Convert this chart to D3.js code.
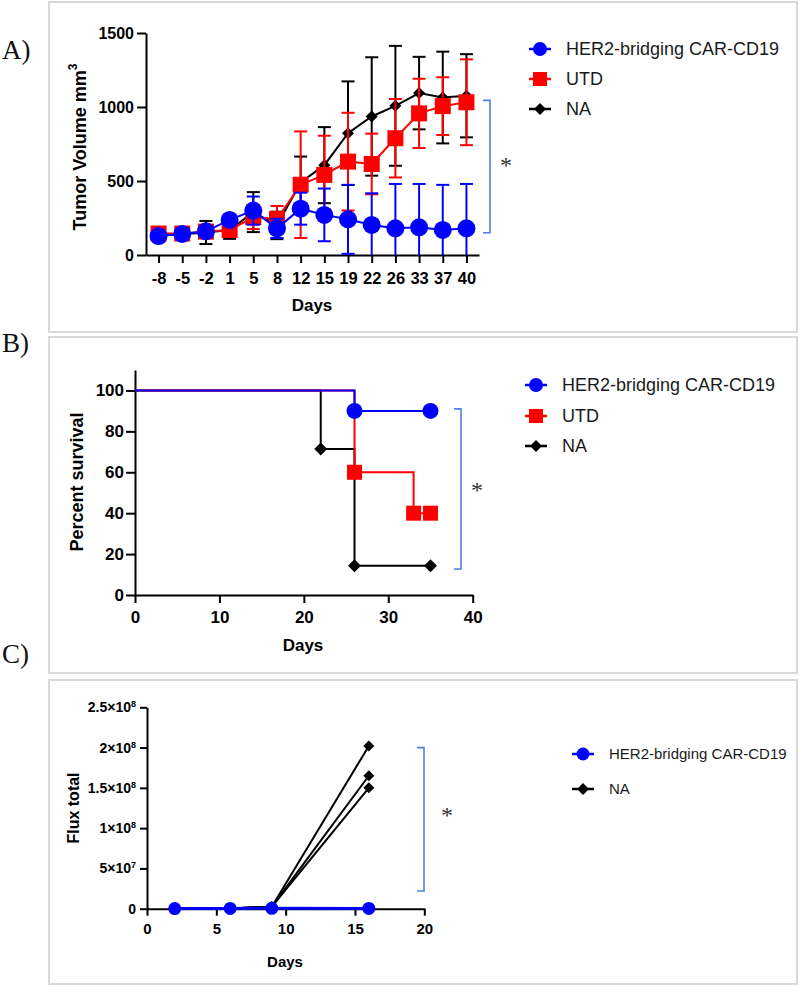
<!DOCTYPE html>
<html><head><meta charset="utf-8">
<script src="https://cdn.jsdelivr.net/npm/d3@7/dist/d3.min.js"></script>
<style>
body{margin:0;background:#fff;}
svg{display:block;}
</style></head><body>
<script>
// ---------- Panel A data: tumor volume (mean ± SD) ----------
const daysA = ["-8","-5","-2","1","5","8","12","15","19","22","26","33","37","40"];
const her2Mean = [128,142,160,237,300,180,313,271,241,203,180,187,169,180];
const her2SD   = [20,20,35,30,95,65,108,178,233,214,300,293,305,300];
const utdMean  = [145,145,158,169,255,243,475,541,631,615,789,957,1006,1032];
const utdSD    = [30,30,30,40,80,88,360,265,330,205,265,234,195,290];
const naMean   = [133,140,152,169,290,200,490,607,823,936,1008,1094,1064,1076];
const naSD     = [20,25,78,60,135,93,175,257,350,400,405,245,310,281];
const ticksA = [0,500,1000,1500];

// ---------- Panel B data: survival ----------
const her2SurvT = [0,26,35];    const her2SurvP = [100,90,90];
const utdSurvT  = [0,26,33,35]; const utdSurvP  = [100,60,40,40];
const naSurvT   = [0,22,26,35]; const naSurvP   = [100,71.4,14.3,14.3];
const ticksBy = [0,20,40,60,80,100];
const ticksBx = [0,10,20,30,40];

// ---------- Panel C data: total flux ----------
const fluxDays = [2,6,9,16];
const her2Flux = [2e5,3e5,5e5,4e5];
const naFlux1  = [3e5,4e5,2.5e6,2.02e8];
const naFlux2  = [3e5,4e5,2.5e6,1.65e8];
const naFlux3  = [3e5,4e5,2.5e6,1.50e8];
const ticksCy = [0,5e7,1e8,1.5e8,2e8,2.5e8];
const ticksCyMant = ["0","5","1","1.5","2","2.5"];
const ticksCyExp  = ["","7","8","8","8","8"];
const ticksCx = [0,5,10,15,20];

const labelHER2 = "HER2-bridging CAR-CD19", labelUTD = "UTD", labelNA = "NA";

const BLUE="#0000ff", RED="#ff0000", BLACK="#000000", BRACKET="#4f81d9";
const SANS="'Liberation Sans', Arial, sans-serif", SERIF="'Liberation Serif','Times New Roman',serif";

const svg = d3.select("body").append("svg").attr("width",800).attr("height",987);

// frames
[[49,2,748,330],[49,337,748,336],[49,680,748,304]].forEach(f=>{
  svg.append("rect").attr("x",f[0]).attr("y",f[1]).attr("width",f[2]).attr("height",f[3])
    .attr("fill","none").attr("stroke","#d9d9d9").attr("stroke-width",2);
});
// panel letters
[["A)",59],["B)",352],["C)",663]].forEach(p=>{
  svg.append("text").attr("x",2).attr("y",p[1]).text(p[0])
    .attr("font-family",SERIF).attr("font-size",27).attr("fill","#111");
});

function styleAxis(g, fs){
  g.selectAll(".domain").attr("stroke","#000").attr("stroke-width",2);
  g.selectAll(".tick line").attr("stroke","#000").attr("stroke-width",2);
  g.selectAll(".tick text").attr("font-family",SANS).attr("font-weight","bold")
    .attr("font-size",fs).attr("fill","#000");
}
function marker(g, shape, x, y, color, s){
  if(shape==="circle") g.append("circle").attr("cx",x).attr("cy",y).attr("r",s).attr("fill",color);
  else if(shape==="square") g.append("rect").attr("x",x-s).attr("y",y-s).attr("width",2*s).attr("height",2*s).attr("fill",color);
  else g.append("path").attr("d",`M${x},${y-s}L${x+s},${y}L${x},${y+s}L${x-s},${y}Z`).attr("fill",color);
}
function legend(x, y, color, shape, s, label, fs){
  const g = svg.append("g");
  g.append("line").attr("x1",x-11).attr("x2",x+11).attr("y1",y).attr("y2",y).attr("stroke",color).attr("stroke-width",2.5);
  marker(g, shape, x, y, color, s);
  g.append("text").attr("x",x+26).attr("y",y).attr("dy","0.36em").text(label)
    .attr("font-family",SANS).attr("font-size",fs).attr("fill","#1a1a1a");
}
function bracket(x, y1, y2){
  svg.append("path").attr("d",`M${x-7},${y1}H${x}V${y2}H${x-7}`).attr("fill","none")
    .attr("stroke",BRACKET).attr("stroke-width",1.6);
}
function star(x, y){
  svg.append("text").attr("x",x).attr("y",y+10).attr("text-anchor","middle").text("*")
    .attr("font-family",SERIF).attr("font-size",24).attr("fill","#333");
}
function axisTitle(x, y, txt, fs, rotate){
  const t = svg.append("text").attr("transform",`translate(${x},${y})${rotate?" rotate(-90)":""}`)
    .attr("text-anchor","middle").attr("dy","0.36em").attr("font-family",SANS).attr("font-weight","bold")
    .attr("font-size",fs).attr("fill","#000");
  return t.text(txt);
}

// ================= Panel A =================
const xA = d3.scalePoint().domain(daysA).range([146,479]).padding(0.53);
const yA = d3.scaleLinear().domain([0,1500]).range([255,33]);
const gA = svg.append("g");
const ax = gA.append("g").attr("transform","translate(0,255)")
  .call(d3.axisBottom(xA).tickSizeInner(8).tickSizeOuter(0).tickPadding(9));
styleAxis(ax,16.5);
const ay = gA.append("g").attr("transform","translate(146,0)")
  .call(d3.axisLeft(yA).tickValues(ticksA).tickFormat(d3.format("d")).tickSizeInner(9).tickSizeOuter(0).tickPadding(3));
styleAxis(ay,16);

function seriesA(mean, sd, color, shape, s){
  const g = gA.append("g");
  daysA.forEach((d,i)=>{
    const x = xA(d), lo = mean[i]-sd[i], hi = mean[i]+sd[i];
    const yl = yA(Math.max(0,lo)), yh = yA(hi);
    g.append("line").attr("x1",x).attr("x2",x).attr("y1",yl).attr("y2",yh).attr("stroke",color).attr("stroke-width",2);
    g.append("line").attr("x1",x-6.5).attr("x2",x+6.5).attr("y1",yh).attr("y2",yh).attr("stroke",color).attr("stroke-width",2);
    if(lo>0) g.append("line").attr("x1",x-6.5).attr("x2",x+6.5).attr("y1",yl).attr("y2",yl).attr("stroke",color).attr("stroke-width",2);
  });
  g.append("path").datum(mean).attr("fill","none").attr("stroke",color).attr("stroke-width",2)
    .attr("d", d3.line().x((v,i)=>xA(daysA[i])).y(v=>yA(v)));
  daysA.forEach((d,i)=>marker(g, shape, xA(d), yA(mean[i]), color, s));
}
seriesA(naMean, naSD, BLACK, "diamond", 6);
seriesA(utdMean, utdSD, RED, "square", 8);
seriesA(her2Mean, her2SD, BLUE, "circle", 9);

const tA = axisTitle(80,147,"Tumor Volume mm",18,true);
tA.append("tspan").attr("font-size",12).attr("dy","-0.75em").text("3");
axisTitle(312,305,"Days",17,false);
bracket(490, yA(1045), yA(150));
star(506,163);
legend(540,49,BLUE,"circle",7,labelHER2,18);
legend(540,79,RED,"square",7,labelUTD,18);
legend(540,109,BLACK,"diamond",6,labelNA,18);

// ================= Panel B =================
const xB = d3.scaleLinear().domain([0,40]).range([135,472.7]);
const yB = d3.scaleLinear().domain([0,110]).range([595,370]);
const gB = svg.append("g");
const bx = gB.append("g").attr("transform","translate(0,595)")
  .call(d3.axisBottom(xB).tickValues(ticksBx).tickSizeInner(8).tickSizeOuter(0).tickPadding(8));
styleAxis(bx,17);
const by = gB.append("g").attr("transform","translate(135,0)")
  .call(d3.axisLeft(yB).tickValues(ticksBy).tickSizeInner(9).tickSizeOuter(0).tickPadding(2));
styleAxis(by,17);

function seriesB(T, P, color, shape, s){
  const g = gB.append("g");
  const pts = T.map((t,i)=>[t,P[i]]);
  g.append("path").datum(pts).attr("fill","none").attr("stroke",color).attr("stroke-width",2)
    .attr("d", d3.line().x(p=>xB(p[0])).y(p=>yB(p[1])).curve(d3.curveStepAfter));
  pts.slice(1).forEach(p=>marker(g, shape, xB(p[0]), yB(p[1]), color, s));
}
seriesB(naSurvT, naSurvP, BLACK, "diamond", 6.5);
seriesB(utdSurvT, utdSurvP, RED, "square", 7.5);
seriesB(her2SurvT, her2SurvP, BLUE, "circle", 8);

axisTitle(77,482,"Percent survival",18,true);
axisTitle(303,645,"Days",17,false);
bracket(461, yB(91), yB(12.7));
star(477,488);
legend(536,385,BLUE,"circle",7,labelHER2,18);
legend(536,416,RED,"square",7,labelUTD,18);
legend(536,446,BLACK,"diamond",6,labelNA,18);

// ================= Panel C =================
const xC = d3.scaleLinear().domain([0,20]).range([147,424.3]);
const yC = d3.scaleLinear().domain([0,2.5e8]).range([908.7,707.3]);
const gC = svg.append("g");
const cx = gC.append("g").attr("transform","translate(0,908.7)")
  .call(d3.axisBottom(xC).tickValues(ticksCx).tickSizeInner(7).tickSizeOuter(0).tickPadding(8));
styleAxis(cx,15);
const cy = gC.append("g").attr("transform","translate(147,0)")
  .call(d3.axisLeft(yC).tickValues(ticksCy).tickFormat(()=>"").tickSizeInner(7).tickSizeOuter(0).tickPadding(4));
styleAxis(cy,14);
cy.selectAll(".tick text").each(function(v,i){
  const t = d3.select(this).attr("font-size",14);
  const k = ticksCy.indexOf(v);
  t.append("tspan").text(ticksCyExp[k] ? ticksCyMant[k]+"×10" : ticksCyMant[k]);
  if(ticksCyExp[k]) t.append("tspan").attr("font-size",9).attr("dy","-0.55em").text(ticksCyExp[k]);
});

[naFlux1,naFlux2,naFlux3].forEach(series=>{
  const g = gC.append("g");
  g.append("path").datum(series).attr("fill","none").attr("stroke",BLACK).attr("stroke-width",2)
    .attr("d", d3.line().x((v,i)=>xC(fluxDays[i])).y(v=>yC(v)));
  series.forEach((v,i)=>marker(g,"diamond",xC(fluxDays[i]),yC(v),BLACK,5.5));
});
{
  const g = gC.append("g");
  g.append("path").datum(her2Flux).attr("fill","none").attr("stroke",BLUE).attr("stroke-width",3)
    .attr("d", d3.line().x((v,i)=>xC(fluxDays[i])).y(v=>yC(v)));
  her2Flux.forEach((v,i)=>marker(g,"circle",xC(fluxDays[i]),yC(v),BLUE,6.5));
}
axisTitle(73,808,"Flux total",16,true);
axisTitle(285,962,"Days",15,false);
bracket(424, yC(2.0e8), yC(2.2e7));
star(447,813);
legend(583,754,BLUE,"circle",6.5,labelHER2,15);
legend(583,789,BLACK,"diamond",6,labelNA,15);
</script>
</body></html>
